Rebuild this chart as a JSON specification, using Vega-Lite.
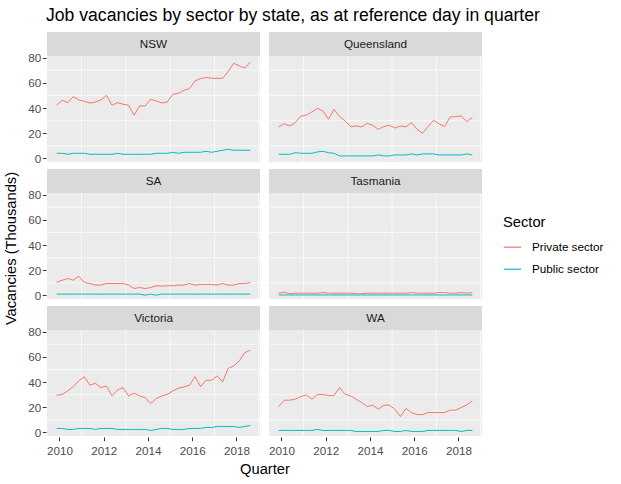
{
"$schema": "https://vega.github.io/schema/vega-lite/v6.json",
"background": "white",
"padding": {"left": 3, "top": 7, "right": 5, "bottom": 5},
"title": {"text": "Job vacancies by sector by state, as at reference day in quarter", "anchor": "start", "fontSize": 17.6, "fontWeight": "normal", "color": "black", "font": "Liberation Sans", "offset": 7, "dx": 43},
"data": {"values": [
{"State":"NSW","Quarter":2009.875,"Private sector":42.2,"Public sector":4.1},
{"State":"NSW","Quarter":2010.125,"Private sector":46.2,"Public sector":4.1},
{"State":"NSW","Quarter":2010.375,"Private sector":44.3,"Public sector":3.3},
{"State":"NSW","Quarter":2010.625,"Private sector":49,"Public sector":4.1},
{"State":"NSW","Quarter":2010.875,"Private sector":46.4,"Public sector":4.1},
{"State":"NSW","Quarter":2011.125,"Private sector":45.4,"Public sector":4.1},
{"State":"NSW","Quarter":2011.375,"Private sector":44,"Public sector":3.3},
{"State":"NSW","Quarter":2011.625,"Private sector":44.8,"Public sector":3.3},
{"State":"NSW","Quarter":2011.875,"Private sector":46.4,"Public sector":3.3},
{"State":"NSW","Quarter":2012.125,"Private sector":50.1,"Public sector":3.3},
{"State":"NSW","Quarter":2012.375,"Private sector":42.2,"Public sector":3.3},
{"State":"NSW","Quarter":2012.625,"Private sector":44.3,"Public sector":4.1},
{"State":"NSW","Quarter":2012.875,"Private sector":43,"Public sector":3.3},
{"State":"NSW","Quarter":2013.125,"Private sector":42.2,"Public sector":3.3},
{"State":"NSW","Quarter":2013.375,"Private sector":34.3,"Public sector":3.3},
{"State":"NSW","Quarter":2013.625,"Private sector":41.7,"Public sector":3.3},
{"State":"NSW","Quarter":2013.875,"Private sector":41.7,"Public sector":3.3},
{"State":"NSW","Quarter":2014.125,"Private sector":47,"Public sector":3.3},
{"State":"NSW","Quarter":2014.375,"Private sector":45.6,"Public sector":4.1},
{"State":"NSW","Quarter":2014.625,"Private sector":44,"Public sector":4.1},
{"State":"NSW","Quarter":2014.875,"Private sector":44.8,"Public sector":4.1},
{"State":"NSW","Quarter":2015.125,"Private sector":50.9,"Public sector":4.9},
{"State":"NSW","Quarter":2015.375,"Private sector":51.7,"Public sector":4.1},
{"State":"NSW","Quarter":2015.625,"Private sector":54,"Public sector":4.9},
{"State":"NSW","Quarter":2015.875,"Private sector":55.4,"Public sector":4.9},
{"State":"NSW","Quarter":2016.125,"Private sector":61.5,"Public sector":4.9},
{"State":"NSW","Quarter":2016.375,"Private sector":63.4,"Public sector":4.9},
{"State":"NSW","Quarter":2016.625,"Private sector":64.2,"Public sector":5.7},
{"State":"NSW","Quarter":2016.875,"Private sector":63.6,"Public sector":4.9},
{"State":"NSW","Quarter":2017.125,"Private sector":63.6,"Public sector":5.7},
{"State":"NSW","Quarter":2017.375,"Private sector":63.6,"Public sector":6.5},
{"State":"NSW","Quarter":2017.625,"Private sector":69,"Public sector":7.3},
{"State":"NSW","Quarter":2017.875,"Private sector":75.5,"Public sector":6.5},
{"State":"NSW","Quarter":2018.125,"Private sector":73.4,"Public sector":6.5},
{"State":"NSW","Quarter":2018.375,"Private sector":71.6,"Public sector":6.5},
{"State":"NSW","Quarter":2018.625,"Private sector":76.6,"Public sector":6.5},
{"State":"Queensland","Quarter":2009.875,"Private sector":25,"Public sector":3.3},
{"State":"Queensland","Quarter":2010.125,"Private sector":27.6,"Public sector":3.3},
{"State":"Queensland","Quarter":2010.375,"Private sector":25.8,"Public sector":3.3},
{"State":"Queensland","Quarter":2010.625,"Private sector":28.4,"Public sector":4.6},
{"State":"Queensland","Quarter":2010.875,"Private sector":33.7,"Public sector":4.1},
{"State":"Queensland","Quarter":2011.125,"Private sector":34.3,"Public sector":4.1},
{"State":"Queensland","Quarter":2011.375,"Private sector":36.9,"Public sector":4.1},
{"State":"Queensland","Quarter":2011.625,"Private sector":39.8,"Public sector":5.2},
{"State":"Queensland","Quarter":2011.875,"Private sector":37.7,"Public sector":5.7},
{"State":"Queensland","Quarter":2012.125,"Private sector":31.1,"Public sector":4.6},
{"State":"Queensland","Quarter":2012.375,"Private sector":39,"Public sector":4.1},
{"State":"Queensland","Quarter":2012.625,"Private sector":33.2,"Public sector":2},
{"State":"Queensland","Quarter":2012.875,"Private sector":29.8,"Public sector":2},
{"State":"Queensland","Quarter":2013.125,"Private sector":25.3,"Public sector":2},
{"State":"Queensland","Quarter":2013.375,"Private sector":25.8,"Public sector":2},
{"State":"Queensland","Quarter":2013.625,"Private sector":25,"Public sector":2},
{"State":"Queensland","Quarter":2013.875,"Private sector":27.9,"Public sector":2},
{"State":"Queensland","Quarter":2014.125,"Private sector":26.3,"Public sector":2},
{"State":"Queensland","Quarter":2014.375,"Private sector":23.1,"Public sector":2.8},
{"State":"Queensland","Quarter":2014.625,"Private sector":25.3,"Public sector":2},
{"State":"Queensland","Quarter":2014.875,"Private sector":26.3,"Public sector":2},
{"State":"Queensland","Quarter":2015.125,"Private sector":24.2,"Public sector":2.8},
{"State":"Queensland","Quarter":2015.375,"Private sector":25.8,"Public sector":2.8},
{"State":"Queensland","Quarter":2015.625,"Private sector":25,"Public sector":2.8},
{"State":"Queensland","Quarter":2015.875,"Private sector":28.4,"Public sector":3.6},
{"State":"Queensland","Quarter":2016.125,"Private sector":23.1,"Public sector":2.8},
{"State":"Queensland","Quarter":2016.375,"Private sector":20,"Public sector":3.6},
{"State":"Queensland","Quarter":2016.625,"Private sector":25.3,"Public sector":3.6},
{"State":"Queensland","Quarter":2016.875,"Private sector":30.3,"Public sector":3.6},
{"State":"Queensland","Quarter":2017.125,"Private sector":27.4,"Public sector":2.8},
{"State":"Queensland","Quarter":2017.375,"Private sector":25.3,"Public sector":2.8},
{"State":"Queensland","Quarter":2017.625,"Private sector":32.9,"Public sector":2.8},
{"State":"Queensland","Quarter":2017.875,"Private sector":33.2,"Public sector":2.8},
{"State":"Queensland","Quarter":2018.125,"Private sector":33.7,"Public sector":2.8},
{"State":"Queensland","Quarter":2018.375,"Private sector":29.2,"Public sector":3.6},
{"State":"Queensland","Quarter":2018.625,"Private sector":32.4,"Public sector":2.8},
{"State":"SA","Quarter":2009.875,"Private sector":10.3,"Public sector":1.1},
{"State":"SA","Quarter":2010.125,"Private sector":12.1,"Public sector":1.1},
{"State":"SA","Quarter":2010.375,"Private sector":13.5,"Public sector":1.1},
{"State":"SA","Quarter":2010.625,"Private sector":12.1,"Public sector":1.1},
{"State":"SA","Quarter":2010.875,"Private sector":15.3,"Public sector":1.1},
{"State":"SA","Quarter":2011.125,"Private sector":10.3,"Public sector":1.1},
{"State":"SA","Quarter":2011.375,"Private sector":9.5,"Public sector":1.1},
{"State":"SA","Quarter":2011.625,"Private sector":8.2,"Public sector":1.1},
{"State":"SA","Quarter":2011.875,"Private sector":8.2,"Public sector":1.1},
{"State":"SA","Quarter":2012.125,"Private sector":9.5,"Public sector":1.1},
{"State":"SA","Quarter":2012.375,"Private sector":9.5,"Public sector":1.1},
{"State":"SA","Quarter":2012.625,"Private sector":9.5,"Public sector":1.1},
{"State":"SA","Quarter":2012.875,"Private sector":9.5,"Public sector":1.1},
{"State":"SA","Quarter":2013.125,"Private sector":8.2,"Public sector":1.1},
{"State":"SA","Quarter":2013.375,"Private sector":5.5,"Public sector":1.1},
{"State":"SA","Quarter":2013.625,"Private sector":6.3,"Public sector":1.1},
{"State":"SA","Quarter":2013.875,"Private sector":5.5,"Public sector":0.2},
{"State":"SA","Quarter":2014.125,"Private sector":6.3,"Public sector":1.1},
{"State":"SA","Quarter":2014.375,"Private sector":7.7,"Public sector":0.2},
{"State":"SA","Quarter":2014.625,"Private sector":7.4,"Public sector":1.1},
{"State":"SA","Quarter":2014.875,"Private sector":7.7,"Public sector":1.1},
{"State":"SA","Quarter":2015.125,"Private sector":7.7,"Public sector":1.1},
{"State":"SA","Quarter":2015.375,"Private sector":8.2,"Public sector":1.1},
{"State":"SA","Quarter":2015.625,"Private sector":8.2,"Public sector":1.1},
{"State":"SA","Quarter":2015.875,"Private sector":9.5,"Public sector":1.1},
{"State":"SA","Quarter":2016.125,"Private sector":8.2,"Public sector":1.1},
{"State":"SA","Quarter":2016.375,"Private sector":8.7,"Public sector":1.1},
{"State":"SA","Quarter":2016.625,"Private sector":8.7,"Public sector":1.1},
{"State":"SA","Quarter":2016.875,"Private sector":8.7,"Public sector":1.1},
{"State":"SA","Quarter":2017.125,"Private sector":8.2,"Public sector":1.1},
{"State":"SA","Quarter":2017.375,"Private sector":9.5,"Public sector":1.1},
{"State":"SA","Quarter":2017.625,"Private sector":8.2,"Public sector":1.1},
{"State":"SA","Quarter":2017.875,"Private sector":8.2,"Public sector":1.1},
{"State":"SA","Quarter":2018.125,"Private sector":9.5,"Public sector":1.1},
{"State":"SA","Quarter":2018.375,"Private sector":9.5,"Public sector":1.1},
{"State":"SA","Quarter":2018.625,"Private sector":10.3,"Public sector":1.1},
{"State":"Tasmania","Quarter":2009.875,"Private sector":1.8,"Public sector":0.4},
{"State":"Tasmania","Quarter":2010.125,"Private sector":2.6,"Public sector":0.4},
{"State":"Tasmania","Quarter":2010.375,"Private sector":1.3,"Public sector":0.4},
{"State":"Tasmania","Quarter":2010.625,"Private sector":1.8,"Public sector":0.4},
{"State":"Tasmania","Quarter":2010.875,"Private sector":1.8,"Public sector":0.4},
{"State":"Tasmania","Quarter":2011.125,"Private sector":1.8,"Public sector":0.4},
{"State":"Tasmania","Quarter":2011.375,"Private sector":1.8,"Public sector":0.4},
{"State":"Tasmania","Quarter":2011.625,"Private sector":1.8,"Public sector":0.4},
{"State":"Tasmania","Quarter":2011.875,"Private sector":2.3,"Public sector":0.4},
{"State":"Tasmania","Quarter":2012.125,"Private sector":1.8,"Public sector":0.4},
{"State":"Tasmania","Quarter":2012.375,"Private sector":1.8,"Public sector":0.4},
{"State":"Tasmania","Quarter":2012.625,"Private sector":1.8,"Public sector":0.4},
{"State":"Tasmania","Quarter":2012.875,"Private sector":1.8,"Public sector":0.4},
{"State":"Tasmania","Quarter":2013.125,"Private sector":1.8,"Public sector":0.4},
{"State":"Tasmania","Quarter":2013.375,"Private sector":1.3,"Public sector":0.4},
{"State":"Tasmania","Quarter":2013.625,"Private sector":1.3,"Public sector":0.4},
{"State":"Tasmania","Quarter":2013.875,"Private sector":1.8,"Public sector":0.4},
{"State":"Tasmania","Quarter":2014.125,"Private sector":1.8,"Public sector":0.4},
{"State":"Tasmania","Quarter":2014.375,"Private sector":1.8,"Public sector":0.4},
{"State":"Tasmania","Quarter":2014.625,"Private sector":1.8,"Public sector":0.4},
{"State":"Tasmania","Quarter":2014.875,"Private sector":1.8,"Public sector":0.4},
{"State":"Tasmania","Quarter":2015.125,"Private sector":1.8,"Public sector":0.4},
{"State":"Tasmania","Quarter":2015.375,"Private sector":1.8,"Public sector":0.4},
{"State":"Tasmania","Quarter":2015.625,"Private sector":1.8,"Public sector":0.4},
{"State":"Tasmania","Quarter":2015.875,"Private sector":2.3,"Public sector":0.4},
{"State":"Tasmania","Quarter":2016.125,"Private sector":1.8,"Public sector":0.4},
{"State":"Tasmania","Quarter":2016.375,"Private sector":1.8,"Public sector":0.4},
{"State":"Tasmania","Quarter":2016.625,"Private sector":1.8,"Public sector":0.4},
{"State":"Tasmania","Quarter":2016.875,"Private sector":1.8,"Public sector":0.4},
{"State":"Tasmania","Quarter":2017.125,"Private sector":2.3,"Public sector":0.4},
{"State":"Tasmania","Quarter":2017.375,"Private sector":2.3,"Public sector":0.4},
{"State":"Tasmania","Quarter":2017.625,"Private sector":1.8,"Public sector":0.4},
{"State":"Tasmania","Quarter":2017.875,"Private sector":1.8,"Public sector":0.4},
{"State":"Tasmania","Quarter":2018.125,"Private sector":2.3,"Public sector":0.4},
{"State":"Tasmania","Quarter":2018.375,"Private sector":1.8,"Public sector":0.4},
{"State":"Tasmania","Quarter":2018.625,"Private sector":2.3,"Public sector":0.4},
{"State":"Victoria","Quarter":2009.875,"Private sector":29.6,"Public sector":3.2},
{"State":"Victoria","Quarter":2010.125,"Private sector":30.1,"Public sector":3.2},
{"State":"Victoria","Quarter":2010.375,"Private sector":33,"Public sector":2.4},
{"State":"Victoria","Quarter":2010.625,"Private sector":36.4,"Public sector":2.4},
{"State":"Victoria","Quarter":2010.875,"Private sector":40.9,"Public sector":3.2},
{"State":"Victoria","Quarter":2011.125,"Private sector":44.3,"Public sector":3.2},
{"State":"Victoria","Quarter":2011.375,"Private sector":37.5,"Public sector":3.2},
{"State":"Victoria","Quarter":2011.625,"Private sector":39,"Public sector":2.4},
{"State":"Victoria","Quarter":2011.875,"Private sector":35.6,"Public sector":3.2},
{"State":"Victoria","Quarter":2012.125,"Private sector":36.9,"Public sector":3.2},
{"State":"Victoria","Quarter":2012.375,"Private sector":29,"Public sector":3.2},
{"State":"Victoria","Quarter":2012.625,"Private sector":33.8,"Public sector":2.4},
{"State":"Victoria","Quarter":2012.875,"Private sector":35.6,"Public sector":2.4},
{"State":"Victoria","Quarter":2013.125,"Private sector":29,"Public sector":2.4},
{"State":"Victoria","Quarter":2013.375,"Private sector":31.1,"Public sector":2.4},
{"State":"Victoria","Quarter":2013.625,"Private sector":29,"Public sector":2.4},
{"State":"Victoria","Quarter":2013.875,"Private sector":27.7,"Public sector":2.4},
{"State":"Victoria","Quarter":2014.125,"Private sector":23,"Public sector":1.6},
{"State":"Victoria","Quarter":2014.375,"Private sector":26.9,"Public sector":2.4},
{"State":"Victoria","Quarter":2014.625,"Private sector":29,"Public sector":3.2},
{"State":"Victoria","Quarter":2014.875,"Private sector":30.3,"Public sector":3.2},
{"State":"Victoria","Quarter":2015.125,"Private sector":33,"Public sector":2.4},
{"State":"Victoria","Quarter":2015.375,"Private sector":35.1,"Public sector":2.4},
{"State":"Victoria","Quarter":2015.625,"Private sector":36.1,"Public sector":2.4},
{"State":"Victoria","Quarter":2015.875,"Private sector":37.5,"Public sector":3.2},
{"State":"Victoria","Quarter":2016.125,"Private sector":44.3,"Public sector":3.2},
{"State":"Victoria","Quarter":2016.375,"Private sector":36.4,"Public sector":3.2},
{"State":"Victoria","Quarter":2016.625,"Private sector":41.4,"Public sector":4},
{"State":"Victoria","Quarter":2016.875,"Private sector":41.4,"Public sector":4},
{"State":"Victoria","Quarter":2017.125,"Private sector":44.9,"Public sector":4.7},
{"State":"Victoria","Quarter":2017.375,"Private sector":40.1,"Public sector":4.7},
{"State":"Victoria","Quarter":2017.625,"Private sector":50.9,"Public sector":4.7},
{"State":"Victoria","Quarter":2017.875,"Private sector":52.8,"Public sector":4.7},
{"State":"Victoria","Quarter":2018.125,"Private sector":56.7,"Public sector":4},
{"State":"Victoria","Quarter":2018.375,"Private sector":63.3,"Public sector":4.7},
{"State":"Victoria","Quarter":2018.625,"Private sector":65.2,"Public sector":5.5},
{"State":"WA","Quarter":2009.875,"Private sector":20.6,"Public sector":1.6},
{"State":"WA","Quarter":2010.125,"Private sector":25.6,"Public sector":1.6},
{"State":"WA","Quarter":2010.375,"Private sector":25.6,"Public sector":1.6},
{"State":"WA","Quarter":2010.625,"Private sector":26.4,"Public sector":1.6},
{"State":"WA","Quarter":2010.875,"Private sector":28.5,"Public sector":1.6},
{"State":"WA","Quarter":2011.125,"Private sector":29.8,"Public sector":1.6},
{"State":"WA","Quarter":2011.375,"Private sector":26.4,"Public sector":1.6},
{"State":"WA","Quarter":2011.625,"Private sector":30.1,"Public sector":2.4},
{"State":"WA","Quarter":2011.875,"Private sector":30.1,"Public sector":1.6},
{"State":"WA","Quarter":2012.125,"Private sector":29.3,"Public sector":1.6},
{"State":"WA","Quarter":2012.375,"Private sector":29.3,"Public sector":1.6},
{"State":"WA","Quarter":2012.625,"Private sector":35.6,"Public sector":1.6},
{"State":"WA","Quarter":2012.875,"Private sector":30.3,"Public sector":1.6},
{"State":"WA","Quarter":2013.125,"Private sector":29,"Public sector":1.6},
{"State":"WA","Quarter":2013.375,"Private sector":26.4,"Public sector":0.8},
{"State":"WA","Quarter":2013.625,"Private sector":23.7,"Public sector":0.8},
{"State":"WA","Quarter":2013.875,"Private sector":20.6,"Public sector":0.8},
{"State":"WA","Quarter":2014.125,"Private sector":21.6,"Public sector":0.8},
{"State":"WA","Quarter":2014.375,"Private sector":18.5,"Public sector":0.8},
{"State":"WA","Quarter":2014.625,"Private sector":21.6,"Public sector":1.6},
{"State":"WA","Quarter":2014.875,"Private sector":21.6,"Public sector":1.6},
{"State":"WA","Quarter":2015.125,"Private sector":18.5,"Public sector":0.8},
{"State":"WA","Quarter":2015.375,"Private sector":12.7,"Public sector":0.8},
{"State":"WA","Quarter":2015.625,"Private sector":19,"Public sector":1.6},
{"State":"WA","Quarter":2015.875,"Private sector":15.8,"Public sector":0.8},
{"State":"WA","Quarter":2016.125,"Private sector":14.2,"Public sector":0.8},
{"State":"WA","Quarter":2016.375,"Private sector":14.2,"Public sector":0.8},
{"State":"WA","Quarter":2016.625,"Private sector":15.8,"Public sector":1.6},
{"State":"WA","Quarter":2016.875,"Private sector":15.8,"Public sector":1.6},
{"State":"WA","Quarter":2017.125,"Private sector":15.8,"Public sector":1.6},
{"State":"WA","Quarter":2017.375,"Private sector":15.8,"Public sector":1.6},
{"State":"WA","Quarter":2017.625,"Private sector":17.7,"Public sector":1.6},
{"State":"WA","Quarter":2017.875,"Private sector":17.7,"Public sector":1.6},
{"State":"WA","Quarter":2018.125,"Private sector":19.8,"Public sector":0.8},
{"State":"WA","Quarter":2018.375,"Private sector":21.9,"Public sector":1.6},
{"State":"WA","Quarter":2018.625,"Private sector":25.1,"Public sector":1.6}
]},
"transform": [{"fold": ["Private sector", "Public sector"], "as": ["Sector", "Vacancies"]}],
"spacing": -11,
"resolve": {"scale": {"x": "independent", "y": "independent"}},
"hconcat": [
  {
    "width": 0,
    "height": 432,
    "view": {"fill": null, "stroke": null},
    "mark": {"type": "point", "opacity": 0, "size": 0},
    "encoding": {
      "y": {"field": "Vacancies", "type": "quantitative", "axis": {"title": "Vacancies (Thousands)", "labels": false, "ticks": false, "domain": false, "grid": false, "titleFontSize": 14.7, "titleFontWeight": "normal", "titleColor": "black", "titlePadding": 0}}
    }
  },
  {
    "facet": {"field": "State", "type": "nominal", "header": {"labels": false, "labelFontSize": 0, "labelPadding": 0, "title": "Quarter", "titleOrient": "bottom", "titleFontSize": 14.7, "titleFontWeight": "normal", "titleColor": "black", "titlePadding": 4}},
    "columns": 2,
    "spacing": {"row": 5, "column": 7},
    "spec": {
      "width": 213,
      "height": 130,
      "layer": [
        {
          "transform": [{"aggregate": [{"op": "count", "as": "n"}], "groupby": ["State"]}],
          "mark": {"type": "rule", "color": "white", "strokeWidth": 0.7},
          "encoding": {"y": {"datum": 10, "title": null, "axis": {"values": [0, 20, 40, 60, 80], "gridWidth": 1.4, "labelOverlap": false}}}
        },
        {
          "transform": [{"aggregate": [{"op": "count", "as": "n"}], "groupby": ["State"]}],
          "mark": {"type": "rule", "color": "white", "strokeWidth": 0.7},
          "encoding": {"y": {"datum": 30, "title": null, "axis": {"values": [0, 20, 40, 60, 80], "gridWidth": 1.4, "labelOverlap": false}}}
        },
        {
          "transform": [{"aggregate": [{"op": "count", "as": "n"}], "groupby": ["State"]}],
          "mark": {"type": "rule", "color": "white", "strokeWidth": 0.7},
          "encoding": {"y": {"datum": 50, "title": null, "axis": {"values": [0, 20, 40, 60, 80], "gridWidth": 1.4, "labelOverlap": false}}}
        },
        {
          "transform": [{"aggregate": [{"op": "count", "as": "n"}], "groupby": ["State"]}],
          "mark": {"type": "rule", "color": "white", "strokeWidth": 0.7},
          "encoding": {"y": {"datum": 70, "title": null, "axis": {"values": [0, 20, 40, 60, 80], "gridWidth": 1.4, "labelOverlap": false}}}
        },
        {
          "transform": [{"aggregate": [{"op": "count", "as": "n"}], "groupby": ["State"]}],
          "mark": {"type": "rule", "color": "white", "strokeWidth": 0.7},
          "encoding": {"x": {"datum": 2011, "title": null, "axis": {"values": [2010, 2012, 2014, 2016, 2018], "format": "d", "labelPadding": 5, "gridWidth": 1.4, "labelOverlap": false}}}
        },
        {
          "transform": [{"aggregate": [{"op": "count", "as": "n"}], "groupby": ["State"]}],
          "mark": {"type": "rule", "color": "white", "strokeWidth": 0.7},
          "encoding": {"x": {"datum": 2013, "title": null, "axis": {"values": [2010, 2012, 2014, 2016, 2018], "format": "d", "labelPadding": 5, "gridWidth": 1.4, "labelOverlap": false}}}
        },
        {
          "transform": [{"aggregate": [{"op": "count", "as": "n"}], "groupby": ["State"]}],
          "mark": {"type": "rule", "color": "white", "strokeWidth": 0.7},
          "encoding": {"x": {"datum": 2015, "title": null, "axis": {"values": [2010, 2012, 2014, 2016, 2018], "format": "d", "labelPadding": 5, "gridWidth": 1.4, "labelOverlap": false}}}
        },
        {
          "transform": [{"aggregate": [{"op": "count", "as": "n"}], "groupby": ["State"]}],
          "mark": {"type": "rule", "color": "white", "strokeWidth": 0.7},
          "encoding": {"x": {"datum": 2017, "title": null, "axis": {"values": [2010, 2012, 2014, 2016, 2018], "format": "d", "labelPadding": 5, "gridWidth": 1.4, "labelOverlap": false}}}
        },
        {
          "transform": [{"aggregate": [{"op": "count", "as": "n"}], "groupby": ["State"]}],
          "mark": {"type": "rule", "color": "white", "strokeWidth": 0.7},
          "encoding": {"x": {"datum": 2019, "title": null, "axis": {"values": [2010, 2012, 2014, 2016, 2018], "format": "d", "labelPadding": 5, "gridWidth": 1.4, "labelOverlap": false}}}
        },
        {
          "mark": {"type": "line", "strokeWidth": 1},
          "encoding": {
            "x": {"field": "Quarter", "type": "quantitative", "title": null,
                  "scale": {"domain": [2009.4375, 2019.0625], "nice": false, "zero": false},
                  "axis": {"values": [2010, 2012, 2014, 2016, 2018], "format": "d", "labelPadding": 5, "gridWidth": 1.4, "labelOverlap": false}},
            "y": {"field": "Vacancies", "type": "quantitative", "title": null,
                  "scale": {"domain": [-2.8, 100.3], "nice": false, "zero": false},
                  "axis": {"values": [0, 20, 40, 60, 80], "gridWidth": 1.4, "labelOverlap": false}},
            "color": {"field": "Sector", "type": "nominal",
                      "scale": {"domain": ["Private sector", "Public sector"], "range": ["#F8766D", "#00BFC4"]},
                      "legend": {"orient": "none", "legendX": 485, "legendY": 183, "symbolType": "stroke", "symbolSize": 300, "symbolStrokeWidth": 1.2,
                                 "titleFontSize": 14.7, "titleFontWeight": "normal", "titleColor": "black", "titlePadding": 8,
                                 "labelFontSize": 11.7, "labelColor": "black", "labelOffset": 10, "rowPadding": 5}}
          }
        },
        {
          "transform": [{"aggregate": [{"op": "count", "as": "n"}], "groupby": ["State"]}],
          "mark": {"type": "rect", "fill": "#D9D9D9"},
          "encoding": {"y": {"datum": 81.3, "title": null, "axis": {"values": [0, 20, 40, 60, 80], "gridWidth": 1.4, "labelOverlap": false}}, "y2": {"datum": 100.3}}
        },
        {
          "transform": [{"aggregate": [{"op": "count", "as": "n"}], "groupby": ["State"]}],
          "mark": {"type": "text", "fontSize": 11.7, "color": "#1A1A1A", "baseline": "middle", "align": "center"},
          "encoding": {"text": {"field": "State"},
                       "x": {"datum": 2014.25, "title": null, "axis": {"values": [2010, 2012, 2014, 2016, 2018], "format": "d", "labelPadding": 5, "gridWidth": 1.4, "labelOverlap": false}},
                       "y": {"datum": 90.8, "title": null, "axis": {"values": [0, 20, 40, 60, 80], "gridWidth": 1.4, "labelOverlap": false}}}
        }
      ]
    }
  }
],
"config": {
  "font": "Liberation Sans",
  "view": {"fill": "#EBEBEB", "stroke": null},
  "header": {"labels": false},
  "headerFacet": {"labels": false},
  "axis": {"gridColor": "white", "domain": false, "tickColor": "#333333", "tickSize": 3.7, "labelColor": "#4D4D4D", "labelFontSize": 11.7, "labelPadding": 1.5, "titleFontWeight": "normal", "labelOverlap": false}
}
}
